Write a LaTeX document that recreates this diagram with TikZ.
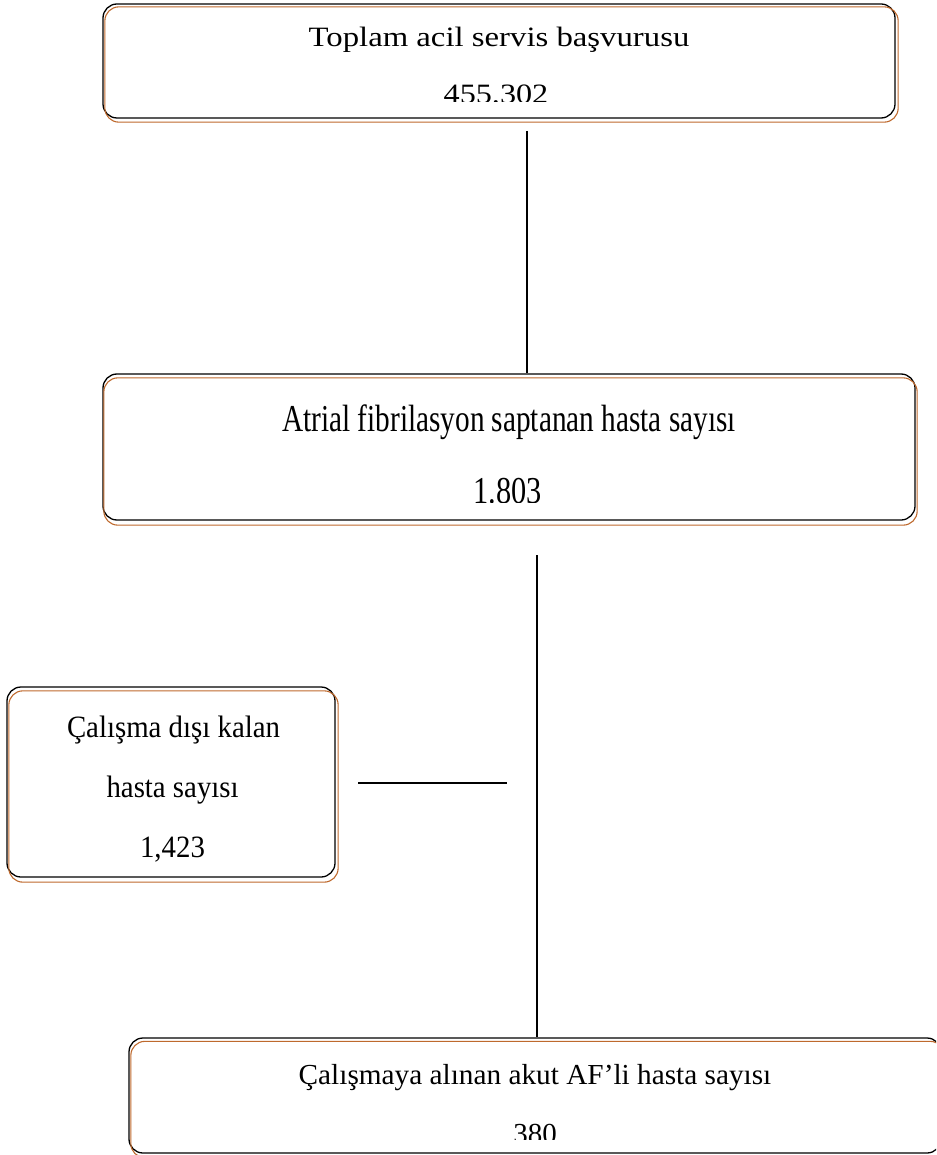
\documentclass[tikz,border=0pt]{standalone}
\usepackage{fontspec}
\setmainfont{Liberation Serif}
\usepackage{graphicx}
\definecolor{boxorange}{RGB}{190,105,45}
\tikzset{
  boxnode/.style={draw=black, line width=1.3pt, rounded corners=14pt, rectangle, inner sep=0pt},
  boxshade/.style={draw=boxorange, line width=1.1pt, rounded corners=14pt},
  conn/.style={draw=black, line width=1.8pt},
  txt/.style={anchor=base, inner sep=0pt, outer sep=0pt},
}
\begin{document}
\begin{tikzpicture}[x=1pt,y=-1pt]
\useasboundingbox (0,0) rectangle (936,1155);
\clip (0,0) rectangle (936,1155);
% boxes
\node[boxnode, minimum width=792pt, minimum height=114pt] (b1) at (499,61) {};
\node[boxnode, minimum width=812pt, minimum height=146pt] (b2) at (509,447) {};
\node[boxnode, minimum width=328pt, minimum height=190pt] (b3) at (171,782) {};
\node[boxnode, minimum width=812pt, minimum height=115pt] (b4) at (535,1095.5) {};
\draw[boxshade] ([shift={(2.5,3.5)}]b1.north west) rectangle ([shift={(2.5,3.5)}]b1.south east);
\draw[boxshade] ([shift={(1.5,4.5)}]b2.north west) rectangle ([shift={(1.5,4.5)}]b2.south east);
\draw[boxshade] ([shift={(2.5,4.5)}]b3.north west) rectangle ([shift={(2.5,4.5)}]b3.south east);
\draw[boxshade] ([shift={(2.5,4)}]b4.north west) rectangle ([shift={(2.5,4)}]b4.south east);
% texts
\node[txt] (b1t1) at (499,47) {\fontsize{28}{34}\selectfont\scalebox{1.17}[1]{Toplam acil servis başvurusu}};
\begin{scope}
\clip (0,0) rectangle (936,102);
\node[txt] (b1t2) at (496,104) {\fontsize{28}{34}\selectfont\scalebox{1.15}[1]{455.302}};
\end{scope}
\node[txt] (b2t1) at (509,431) {\fontsize{38}{44}\selectfont\scalebox{0.77}[1]{Atrial fibrilasyon saptanan hasta sayısı}};
\begin{scope}
\clip (0,400) rectangle (936,502);
\node[txt] (b2t2) at (507.5,503) {\fontsize{38}{44}\selectfont\scalebox{0.8}[1]{1.803}};
\end{scope}
\node[txt] (b3t1) at (173.5,737) {\fontsize{31}{36}\selectfont\scalebox{0.93}[1]{Çalışma dışı kalan}};
\node[txt] (b3t2) at (172.6,797) {\fontsize{31}{36}\selectfont\scalebox{0.93}[1]{hasta sayısı}};
\node[txt] (b3t3) at (172.5,857) {\fontsize{31}{36}\selectfont\scalebox{0.93}[1]{1,423}};
\node[txt] (b4t1) at (535,1084) {\fontsize{29}{35}\selectfont\scalebox{1.01}[1]{Çalışmaya alınan akut AF’li hasta sayısı}};
\begin{scope}
\clip (0,1100) rectangle (936,1139);
\node[txt] (b4t2) at (535,1143) {\fontsize{29}{35}\selectfont 380};
\end{scope}
% connectors
\coordinate (c1) at (527,131);
\coordinate (c2) at (537,555);
\coordinate (h1) at (358,783);
\coordinate (h2) at (507,783);
\draw[conn] (c1) -- (c1 |- b2.north);
\draw[conn] (c2) -- (c2 |- b4.north);
\draw[conn] (h1) -- (h2);
\end{tikzpicture}
\end{document}
